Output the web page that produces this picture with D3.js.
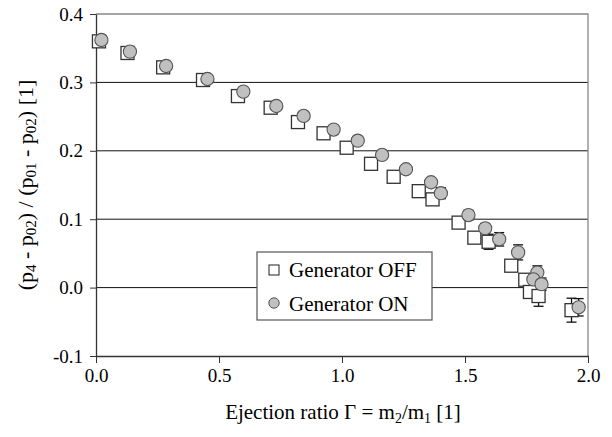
<!DOCTYPE html>
<html>
<head>
<meta charset="utf-8">
<script src="https://cdn.jsdelivr.net/npm/d3@7"></script>
</head>
<body style="margin:0">
<span style="position:absolute;left:-999px;top:0;font-family:'Liberation Serif';font-size:20px">0.1 Generator OFF Γ</span>
<div id="chart"></div>
<script>
// Generator OFF (squares)
var offX   = [0.012, 0.128, 0.273, 0.435, 0.577, 0.710, 0.821, 0.925, 1.019, 1.118, 1.210,
              1.312, 1.368, 1.474, 1.538, 1.596, 1.688, 1.745, 1.764, 1.799, 1.933];
var offY   = [0.360, 0.343, 0.322, 0.3035, 0.280, 0.263, 0.242, 0.2256, 0.2045, 0.181, 0.162,
              0.141, 0.129, 0.095, 0.073, 0.067, 0.032, 0.0115, -0.0064, -0.0123, -0.033];
var offErr = [0, 0, 0, 0, 0, 0, 0, 0, 0, 0, 0,
              0, 0, 0, 0, 0.011, 0.008, 0, 0.008, 0.015, 0.0175];
// Generator ON (circles)
var onX    = [0.022, 0.138, 0.285, 0.453, 0.599, 0.733, 0.844, 0.966, 1.064, 1.163, 1.260,
              1.362, 1.402, 1.514, 1.582, 1.639, 1.716, 1.794, 1.778, 1.811, 1.962];
var onY    = [0.362, 0.345, 0.324, 0.305, 0.2865, 0.2655, 0.251, 0.231, 0.2148, 0.194, 0.173,
              0.154, 0.138, 0.106, 0.0867, 0.0706, 0.0515, 0.022, 0.012, 0.005, -0.0288];
var onErr  = [0, 0, 0, 0, 0, 0, 0, 0, 0, 0, 0,
              0, 0.008, 0.007, 0.007, 0.0098, 0.011, 0.0098, 0.008, 0.009, 0.0127];

var xTicks = [0, 0.5, 1.0, 1.5, 2.0];
var yTicks = [-0.1, 0, 0.1, 0.2, 0.3, 0.4];
var seriesNames = ["Generator OFF", "Generator ON"];

var FONT = "Liberation Serif";
var W = 612, H = 437;
var margin = {top: 14, right: 24, bottom: 81, left: 96};
var width = W - margin.left - margin.right,
    height = H - margin.top - margin.bottom;

var svg = d3.select("#chart").append("svg")
    .attr("width", W).attr("height", H)
    .style("font-family", FONT);
var g = svg.append("g")
    .attr("transform", "translate(" + margin.left + "," + margin.top + ")");

var x = d3.scaleLinear().domain([0, 2]).range([0, width]);
var y = d3.scaleLinear().domain([-0.1, 0.4]).range([height, 0]);

// horizontal gridlines (0.4 is the gray frame)
g.selectAll(".grid")
    .data(yTicks.filter(function(d) { return d > -0.1 && d < 0.4; }))
    .enter().append("line")
    .attr("x1", 0).attr("x2", width)
    .attr("y1", function(d) { return y(d); })
    .attr("y2", function(d) { return y(d); })
    .attr("stroke", "#111").attr("stroke-width", 1);

// plot frame (top and right in gray)
g.append("path")
    .attr("d", "M0," + y(0.4) + "H" + width + "V" + height)
    .attr("fill", "none").attr("stroke", "#888").attr("stroke-width", 1.3);

var fmt = function(d) { return d < 0 ? "-" + d3.format(".1f")(-d) : d3.format(".1f")(d); };
var xAxis = d3.axisBottom(x).tickValues(xTicks).tickFormat(fmt)
    .tickSizeInner(7).tickSizeOuter(0).tickPadding(6);
var yAxis = d3.axisLeft(y).tickValues(yTicks).tickFormat(fmt)
    .tickSizeInner(6).tickSizeOuter(0).tickPadding(7);

g.append("g").attr("class", "axis")
    .attr("transform", "translate(0," + height + ")").call(xAxis);
g.append("g").attr("class", "axis").call(yAxis);
g.selectAll(".axis").attr("font-family", null).attr("font-size", null);
g.selectAll(".axis text")
    .style("font-family", FONT).style("font-size", "19px").attr("fill", "#000");
g.selectAll(".axis line").attr("stroke", "#333");
g.selectAll(".axis .domain").attr("stroke", "#333").attr("stroke-width", 1.3);

var off = offX.map(function(v, i) { return {x: v, y: offY[i], e: offErr[i]}; });
var on = onX.map(function(v, i) { return {x: v, y: onY[i], e: onErr[i]}; });

function errorBars(data) {
    var eb = g.append("g").selectAll("g")
        .data(data.filter(function(d) { return d.e > 0; }))
        .enter().append("g").attr("stroke", "#111").attr("stroke-width", 1.3);
    eb.append("line")
        .attr("x1", function(d) { return x(d.x); }).attr("x2", function(d) { return x(d.x); })
        .attr("y1", function(d) { return y(d.y - d.e); }).attr("y2", function(d) { return y(d.y + d.e); });
    [1, -1].forEach(function(s) {
        eb.append("line")
            .attr("x1", function(d) { return x(d.x) - 5; }).attr("x2", function(d) { return x(d.x) + 5; })
            .attr("y1", function(d) { return y(d.y + s * d.e); })
            .attr("y2", function(d) { return y(d.y + s * d.e); });
    });
}
errorBars(off);
errorBars(on);

g.append("g").selectAll("rect")
    .data(off).enter().append("rect")
    .attr("x", function(d) { return x(d.x) - 6.5; })
    .attr("y", function(d) { return y(d.y) - 6.5; })
    .attr("width", 13).attr("height", 13)
    .attr("fill", "#fff").attr("stroke", "#333").attr("stroke-width", 1.3);

g.append("g").selectAll("circle")
    .data(on).enter().append("circle")
    .attr("cx", function(d) { return x(d.x); })
    .attr("cy", function(d) { return y(d.y); })
    .attr("r", 6.6)
    .attr("fill", "#c0c0c0").attr("stroke", "#555").attr("stroke-width", 1.1);

// legend
var lg = svg.append("g").attr("transform", "translate(257,252)");
lg.append("rect").attr("width", 175).attr("height", 68)
    .attr("fill", "#fff").attr("stroke", "#555").attr("stroke-width", 1.2);
lg.append("rect").attr("x", 12).attr("y", 13).attr("width", 10).attr("height", 10)
    .attr("fill", "#fff").attr("stroke", "#333").attr("stroke-width", 1.1);
lg.append("circle").attr("cx", 17).attr("cy", 51).attr("r", 5.2)
    .attr("fill", "#c0c0c0").attr("stroke", "#555").attr("stroke-width", 1);
lg.selectAll("text").data(seriesNames).enter().append("text")
    .attr("x", 32).attr("y", function(d, i) { return 25 + i * 34; })
    .style("font-family", FONT).style("font-size", "21px").text(function(d) { return d; });

// x title
var xt = svg.append("text")
    .attr("x", margin.left + width / 2 + 1).attr("y", 419)
    .attr("text-anchor", "middle")
    .style("font-family", FONT).style("font-size", "21px");
xt.append("tspan").text("Ejection ratio Γ = m");
xt.append("tspan").style("font-size", "14px").attr("dy", 4).text("2");
xt.append("tspan").attr("dy", -4).text("/m");
xt.append("tspan").style("font-size", "14px").attr("dy", 4).text("1");
xt.append("tspan").attr("dy", -4).text("  [1]");

// y title
var yt = svg.append("text")
    .attr("transform", "translate(33," + (margin.top + height / 2) + ") rotate(-90)")
    .attr("text-anchor", "middle")
    .style("font-family", FONT).style("font-size", "22px");
yt.append("tspan").text("(p");
yt.append("tspan").style("font-size", "15px").attr("dy", 3).text("4");
yt.append("tspan").attr("dy", -3).text(" - p");
yt.append("tspan").style("font-size", "15px").attr("dy", 3).text("02");
yt.append("tspan").attr("dy", -3).text(") / (p");
yt.append("tspan").style("font-size", "15px").attr("dy", 3).text("01");
yt.append("tspan").attr("dy", -3).text(" - p");
yt.append("tspan").style("font-size", "15px").attr("dy", 3).text("02");
yt.append("tspan").attr("dy", -3).text(") [1]");
</script>
</body>
</html>
